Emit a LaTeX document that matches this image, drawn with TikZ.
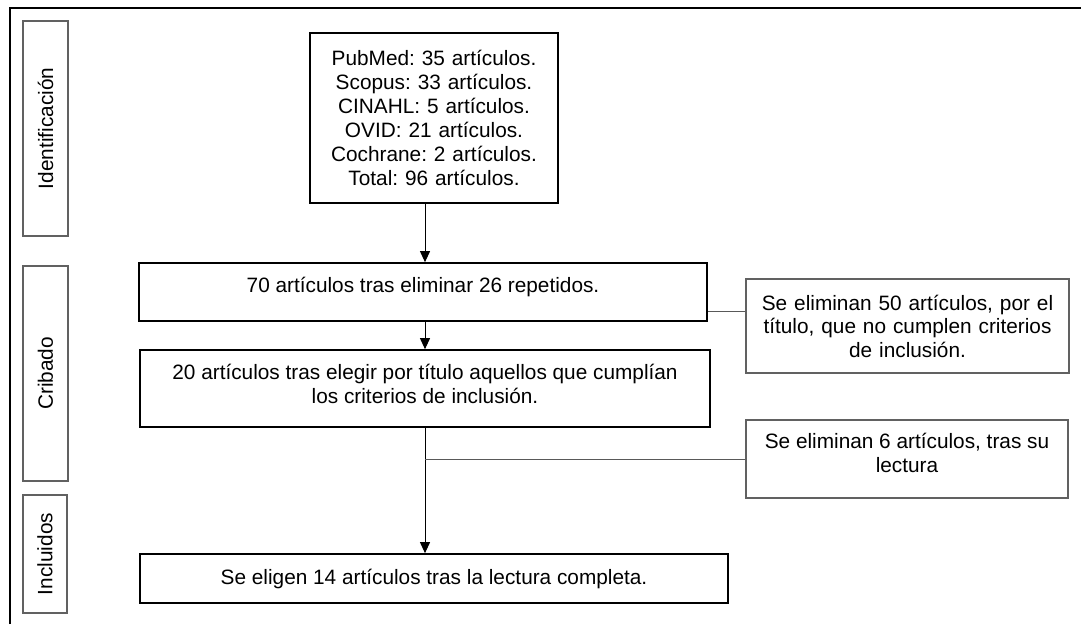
\documentclass[tikz,border=0pt]{standalone}
\usepackage{fontspec}
\setmainfont{Liberation Sans}
\usetikzlibrary{arrows.meta}
\frenchspacing
\begin{document}
\begin{tikzpicture}[x=1pt,y=-1pt,
  font=\fontsize{20.8}{23.5}\selectfont\frenchspacing,
  mainbox/.style={draw=black,line width=1.7pt,inner sep=0pt,align=center},
  sidebox/.style={draw=black!62,line width=1.2pt,inner sep=0pt,align=center},
  phase/.style={draw=black!62,line width=1.2pt,inner sep=0pt,rotate=90},
  arr/.style={draw=black,line width=1pt,-{Triangle[length=11pt,width=10pt]}},
  link/.style={draw=black!65,line width=1pt}]
\useasboundingbox (0,0) rectangle (1081,624);
% outer frame (cropped)
\draw[line width=2pt] (10,624) -- (10,8) -- (1081,8);
% phase labels
\node[phase, minimum width=215pt, minimum height=45pt] (idf) at (45.5,128.5) {Identificación};
\node[phase, minimum width=215pt, minimum height=45pt] (crib) at (45.5,373.5) {Cribado};
\node[phase, minimum width=118pt, minimum height=44pt] (incl) at (45,554) {Incluidos};
% main boxes
\node[mainbox, minimum width=248pt, minimum height=170pt, text width=248pt, font=\fontsize{20.8}{24}\selectfont\frenchspacing] (db) at (434,118)
  {PubMed: 35 artículos.\\Scopus: 33 artículos.\\CINAHL: 5 artículos.\\OVID: 21 artículos.\\Cochrane: 2 artículos.\\Total: 96 artículos.};
\node[mainbox] (b70) at (423,292)
  {\parbox[c][58pt][t]{568pt}{\centering\rule{0pt}{29.5pt}70 artículos tras eliminar 26 repetidos.}};
\node[mainbox] (b20) at (425,388.5)
  {\parbox[c][77pt][t]{570pt}{\centering\rule{0pt}{29.5pt}20 artículos tras elegir por título aquellos que cumplían\\los criterios de inclusión.}};
\node[mainbox, minimum width=588pt, minimum height=49pt] (fin) at (434,578.5)
  {Se eligen 14 artículos tras la lectura completa.};
% side boxes
\node[sidebox, minimum width=323pt, minimum height=94pt, text width=323pt] (s1) at (907.5,326)
  {Se eliminan 50 artículos, por el\\título, que no cumplen criterios\\de inclusión.};
\node[sidebox] (s2) at (907,459)
  {\parbox[c][78pt][t]{322pt}{\centering\rule{0pt}{28.5pt}Se eliminan 6 artículos, tras su\\lectura}};
% connectors
\draw[arr] (db.south -| b20.north) -- (b70.north -| b20.north);
\draw[arr] (b70.south -| b20.north) -- (b20.north);
\draw[arr] (b20.south) -- (fin.north -| b20.south);
\draw[link] (b70.east |- 0,311) -- (s1.west |- 0,311);
\draw[link] (b20.south |- s2.west) -- (s2.west);
\end{tikzpicture}
\end{document}
